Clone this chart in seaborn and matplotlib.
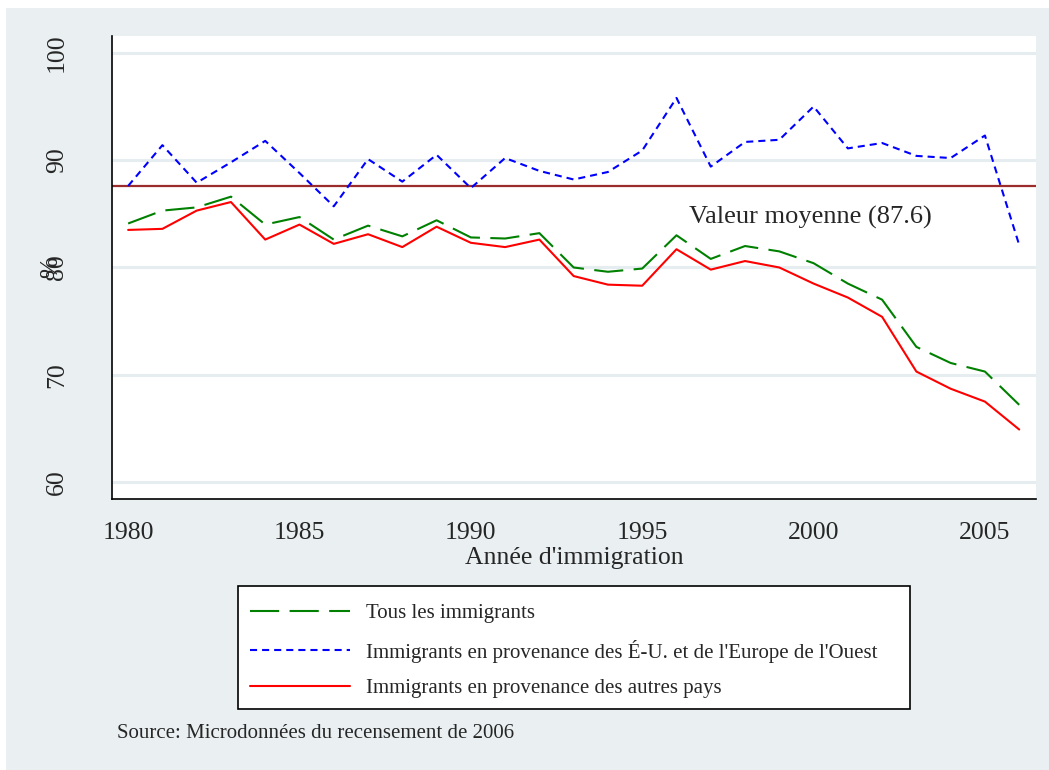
import numpy as np
import pandas as pd
import matplotlib
matplotlib.use("Agg")
import matplotlib.pyplot as plt
import seaborn as sns
from matplotlib.patches import Rectangle
from matplotlib.lines import Line2D

# data (% by year of immigration)
years = [1980, 1981, 1982, 1983, 1984, 1985, 1986, 1987, 1988, 1989,
         1990, 1991, 1992, 1993, 1994, 1995, 1996, 1997, 1998, 1999,
         2000, 2001, 2002, 2003, 2004, 2005, 2006]
tous = [84.1, 85.3, 85.6, 86.6, 84.0, 84.7, 82.6, 83.9, 82.9, 84.4,
        82.8, 82.7, 83.2, 80.0, 79.6, 79.9, 83.0, 80.8, 82.0, 81.5,
        80.4, 78.5, 77.0, 72.6, 71.1, 70.3, 67.2]
eu_ouest = [87.6, 91.4, 87.9, 89.8, 91.8, 88.8, 85.7, 90.1, 88.0, 90.5,
            87.4, 90.2, 89.0, 88.2, 88.9, 90.9, 95.8, 89.4, 91.7, 91.9,
            95.0, 91.1, 91.6, 90.4, 90.2, 92.3, 82.1]
autres = [83.5, 83.6, 85.3, 86.1, 82.6, 84.0, 82.2, 83.1, 81.9, 83.8,
          82.3, 81.9, 82.6, 79.2, 78.4, 78.3, 81.7, 79.8, 80.6, 80.0,
          78.5, 77.2, 75.4, 70.3, 68.7, 67.5, 64.9]
mean_value = 87.6

groups = ["Tous les immigrants",
          "Immigrants en provenance des É-U. et de l'Europe de l'Ouest",
          "Immigrants en provenance des autres pays"]
x_ticks = [1980, 1985, 1990, 1995, 2000, 2005]
y_ticks = [60, 70, 80, 90, 100]

BG = "#EAF0F2"
GRID = "#E6EDF0"
colors = {groups[0]: "#008000", groups[1]: "#0000FF", groups[2]: "#FF0000"}
dashes = {groups[0]: (14, 5), groups[1]: (3.4, 2.4), groups[2]: ""}

df = pd.DataFrame({
    "annee": years * 3,
    "valeur": tous + eu_ouest + autres,
    "groupe": [groups[0]] * len(years) + [groups[1]] * len(years) + [groups[2]] * len(years),
})

sns.set_theme(style="white")
plt.rcParams["font.family"] = ["Liberation Serif", "DejaVu Serif"]

fig = plt.figure(figsize=(10.49, 7.70), dpi=100, facecolor="white")
fig.patches.append(Rectangle((6 / 1049, 0), 1, 1 - 8 / 770, transform=fig.transFigure,
                             facecolor=BG, edgecolor="none", zorder=-10))
ax = fig.add_axes([0.1068, 0.3519, 0.8808, 0.6013])
ax.set_facecolor("white")

ax.axhline(mean_value, color="#9C2B2B", lw=1.6, zorder=1.5)
sns.lineplot(data=df, x="annee", y="valeur", hue="groupe", style="groupe",
             hue_order=groups, style_order=groups, palette=colors, dashes=dashes,
             linewidth=1.5, ax=ax, legend=False, zorder=2)

ax.set_xlim(1979.53, 2006.49)
ax.set_ylim(58.42, 101.57)
ax.set_xticks(x_ticks)
ax.set_xticklabels([str(t) for t in x_ticks], fontsize=18.5)
ax.set_yticks(y_ticks)
ax.set_yticklabels([str(t) for t in y_ticks], fontsize=18.5, rotation=90, va="center")
ax.yaxis.grid(True, color=GRID, linewidth=2.2)
ax.xaxis.grid(False)
ax.set_axisbelow(True)
ax.tick_params(axis="y", length=8.6, width=1.2, color="#333333", pad=23)
ax.tick_params(axis="x", length=7.2, width=1.2, color="#333333", pad=9)
for s in ["top", "right"]:
    ax.spines[s].set_visible(False)
for s in ["left", "bottom"]:
    ax.spines[s].set_color("black")
    ax.spines[s].set_linewidth(1.2)

ax.set_xlabel("Année d'immigration", fontsize=18.5)
ax.xaxis.set_label_coords(0.5, -0.128)
ax.xaxis.label.set_va("center")
ax.set_ylabel("%", fontsize=18.5)
ax.yaxis.set_label_coords(-0.066, 0.5)
ax.yaxis.label.set_va("center")

ax.text(1996.37, 84.7, "Valeur moyenne (87.6)", fontsize=19, va="center", ha="left")

# legend box drawn separately so its frame matches the reference size
fig.patches.append(Rectangle((238 / 1049, 1 - 709 / 770), 672 / 1049, 123 / 770,
                             transform=fig.transFigure, facecolor="white",
                             edgecolor="black", linewidth=1.2, zorder=-5))
handles = [Line2D([], [], color=colors[g], lw=1.5,
                  dashes=dashes[g] if dashes[g] else (None, None)) for g in groups]
leg = fig.legend(handles, groups, loc="upper left",
                 bbox_to_anchor=(232 / 1049, 1 - 586 / 770),
                 bbox_transform=fig.transFigure, borderaxespad=0,
                 fontsize=15, labelspacing=0.78, borderpad=0.85,
                 handlelength=4.8, handletextpad=0.77, frameon=False)

fig.text(117 / 1049, 1 - 733 / 770, "Source: Microdonnées du recensement de 2006",
         fontsize=15, va="center", ha="left")

fig.savefig("out.png", dpi=100, facecolor="white")
